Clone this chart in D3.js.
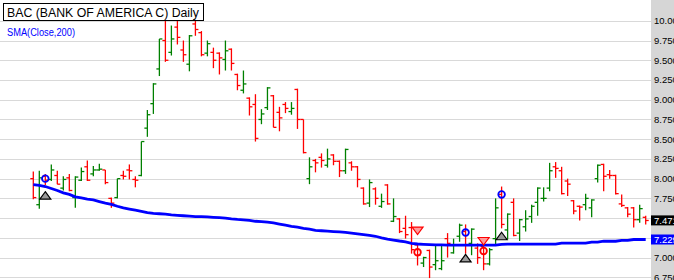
<!DOCTYPE html>
<html>
<head>
<meta charset="utf-8">
<script src="https://cdn.jsdelivr.net/npm/d3@7"></script>
<style>
  body { margin: 0; background: #fff; }
  svg { display: block; font-family: "Liberation Sans", Arial, sans-serif; }
</style>
</head>
<body>
<div id="chart"></div>
<script>
// daily OHLC, oldest first
const opens  = [8.00,7.67,8.03,7.99,8.04,7.88,8.01,7.76,7.98,8.15,8.06,8.11,8.11,7.75,7.76,8.04,8.11,7.99,8.04,8.64,
                8.95,9.39,9.75,9.60,9.92,9.63,9.45,9.96,9.85,9.59,9.60,9.59,9.51,9.64,9.32,9.12,9.02,8.94,8.75,8.90,
                9.05,8.84,8.94,8.85,9.13,8.75,8.00,8.23,8.27,8.17,8.30,8.22,8.10,8.20,8.15,7.88,7.69,7.87,7.65,7.92,
                7.46,7.49,7.37,7.38,7.16,6.93,7.09,6.91,6.86,7.24,7.06,7.27,7.33,7.18,7.12,7.14,6.92,7.24,7.80,7.35,
                7.70,7.31,7.39,7.52,7.70,7.75,7.88,8.15,8.10,7.97,7.72,7.65,7.67,7.63,8.00,8.18,8.05,8.04,7.68,7.63,
                7.63,7.48,7.51];
const highs  = [8.09,8.10,8.06,8.18,8.10,8.03,8.06,8.03,8.14,8.23,8.16,8.19,8.11,7.76,8.00,8.10,8.18,8.03,8.47,8.87,
                9.21,9.77,10.04,9.94,10.05,9.75,9.82,10.03,9.87,9.75,9.66,9.60,9.75,9.65,9.33,9.37,9.03,9.07,8.88,9.16,
                9.06,8.91,8.97,8.97,9.14,8.75,8.27,8.25,8.32,8.38,8.31,8.23,8.38,8.22,8.16,7.89,7.99,7.89,7.81,7.93,
                7.75,7.50,7.53,7.45,7.18,7.01,7.10,7.15,7.15,7.31,7.24,7.43,7.42,7.37,7.18,7.15,7.12,7.75,7.90,7.56,
                7.75,7.49,7.60,7.67,7.89,7.89,8.20,8.21,8.15,8.00,7.73,7.66,7.81,7.74,8.18,8.19,8.11,8.05,7.80,7.64,
                7.64,7.67,7.53];
const lows   = [7.74,7.62,7.92,7.97,7.93,7.85,7.84,7.63,7.97,7.97,8.03,8.10,7.93,7.63,7.75,7.99,7.99,7.89,8.03,8.53,
                8.82,9.30,9.48,9.56,9.70,9.48,9.36,9.81,9.55,9.55,9.40,9.32,9.37,9.37,9.12,9.08,8.80,8.47,8.69,8.87,
                8.65,8.60,8.83,8.81,8.63,8.32,7.93,8.08,8.14,8.14,8.17,8.02,8.06,8.10,7.89,7.67,7.64,7.67,7.63,7.67,
                7.45,7.31,7.24,7.05,6.90,6.88,6.74,6.84,6.84,7.00,7.05,7.20,7.05,7.03,6.92,6.84,6.90,7.16,7.37,7.23,
                7.27,7.21,7.33,7.44,7.53,7.71,7.84,8.01,7.80,7.78,7.55,7.47,7.60,7.51,7.95,7.84,8.00,7.80,7.64,7.51,
                7.38,7.44,7.42];
const closes = [7.76,8.01,7.98,8.11,7.93,7.99,7.85,8.02,8.09,7.98,8.11,8.12,7.95,7.69,8.00,8.03,8.10,7.98,8.47,8.81,
                9.20,9.77,9.50,9.77,9.79,9.57,9.81,9.89,9.57,9.71,9.50,9.53,9.62,9.46,9.18,9.20,8.91,8.51,8.82,9.15,
                8.65,8.77,8.89,8.89,8.75,8.33,8.15,8.20,8.23,8.25,8.22,8.10,8.37,8.15,7.99,7.68,7.95,7.75,7.71,7.68,
                7.52,7.33,7.29,7.10,7.03,7.00,6.88,6.96,6.96,7.18,7.16,7.41,7.16,7.36,7.00,6.92,7.10,7.63,7.42,7.55,
                7.28,7.48,7.49,7.65,7.88,7.75,8.10,8.13,7.81,7.93,7.59,7.64,7.75,7.73,8.17,8.03,8.04,7.81,7.66,7.55,
                7.48,7.62,7.47];
// SMA(Close,200) as drawn
const sma200 = [7.925,7.915,7.900,7.875,7.850,7.820,7.800,7.770,7.755,7.740,7.730,7.710,7.690,7.675,7.650,7.630,7.615,7.600,7.585,7.570,
                7.560,7.555,7.550,7.540,7.535,7.530,7.525,7.520,7.520,7.515,7.510,7.505,7.500,7.490,7.483,7.478,7.470,7.460,7.455,7.448,
                7.440,7.425,7.410,7.396,7.385,7.370,7.360,7.345,7.340,7.335,7.330,7.325,7.320,7.310,7.300,7.290,7.280,7.270,7.250,7.235,
                7.222,7.210,7.200,7.180,7.172,7.168,7.165,7.162,7.160,7.158,7.158,7.158,7.158,7.158,7.158,7.158,7.158,7.158,7.168,7.170,
                7.171,7.171,7.171,7.171,7.171,7.171,7.171,7.171,7.183,7.183,7.183,7.183,7.183,7.195,7.195,7.207,7.207,7.207,7.218,7.218,
                7.229,7.229,7.229];

// signal markers: bar index (0-based) and price
const buyIdx    = [2, 72, 78];
const buyPrice  = [7.784, 6.99, 7.27];
const sellIdx   = [64, 75];
const sellPrice = [7.342, 7.21];
const blueRingIdx   = [2, 72, 78];
const blueRingPrice = [8.00, 7.317, 7.80];
const redRingIdx    = [64, 75];
const redRingPrice  = [7.067, 7.083];

const yTicks = [6.75,7.00,7.25,7.50,7.75,8.00,8.25,8.50,8.75,9.00,9.25,9.50,9.75,10.00];
const lastClose = 7.471;
const lastSma = 7.229;

const width = 674, height = 280, plotRight = 651;

const svg = d3.select("#chart").append("svg")
    .attr("width", width)
    .attr("height", height)

const x = d3.scaleLinear().domain([0, closes.length - 1]).range([33.3, 645.7]);
const y = d3.scaleLinear().domain([6.75, 10]).range([277.3, 20.8]);

svg.append("defs").append("clipPath").attr("id", "plot")
  .append("rect").attr("x", 0).attr("y", 0).attr("width", plotRight).attr("height", height);

// grid
svg.append("g").selectAll("line")
  .data(yTicks).enter().append("line")
    .attr("x1", 0).attr("x2", plotRight)
    .attr("y1", d => Math.round(y(d)) + 0.5).attr("y2", d => Math.round(y(d)) + 0.5)
    .attr("stroke", "#d9d9d9").attr("stroke-width", 1)

const g = svg.append("g").attr("clip-path", "url(#plot)");

// OHLC bars
const bars = g.selectAll(".bar").data(closes.map((c, i) => i)).enter().append("g")
    .attr("stroke", i => closes[i] >= opens[i] ? "#008000" : "#ff0000")
    .attr("stroke-width", 1.3)
bars.append("line")
    .attr("x1", i => x(i)).attr("x2", i => x(i))
    .attr("y1", i => y(highs[i])).attr("y2", i => y(lows[i]))
bars.append("line")
    .attr("x1", i => x(i) - 3).attr("x2", i => x(i))
    .attr("y1", i => y(opens[i])).attr("y2", i => y(opens[i]))
bars.append("line")
    .attr("x1", i => x(i)).attr("x2", i => x(i) + 3)
    .attr("y1", i => y(closes[i])).attr("y2", i => y(closes[i]))

// moving average
g.append("path")
    .datum(sma200)
    .attr("fill", "none")
    .attr("stroke", "#0000ff")
    .attr("stroke-width", 2.8)
    .attr("d", d3.line().x((d, i) => x(i)).y(d => y(d)))

// markers
g.selectAll(".buy").data(buyIdx).enter().append("path")
    .attr("d", (d, k) => { const cx = x(d), cy = y(buyPrice[k]);
      return `M${cx},${cy - 4}L${cx + 5.5},${cy + 3.5}L${cx - 5.5},${cy + 3.5}Z`; })
    .attr("fill", "#9a9a9a").attr("stroke", "#000").attr("stroke-width", 1.2)

g.selectAll(".sell").data(sellIdx).enter().append("path")
    .attr("d", (d, k) => { const cx = x(d), cy = y(sellPrice[k]);
      return `M${cx - 5.5},${cy - 3.5}L${cx + 5.5},${cy - 3.5}L${cx},${cy + 4}Z`; })
    .attr("fill", "#ff9a9a").attr("stroke", "#ff0000").attr("stroke-width", 1.2)

g.selectAll(".bring").data(blueRingIdx).enter().append("circle")
    .attr("cx", d => x(d)).attr("cy", (d, k) => y(blueRingPrice[k])).attr("r", 3.3)
    .attr("fill", "none").attr("stroke", "#0000ff").attr("stroke-width", 1.8)

g.selectAll(".rring").data(redRingIdx).enter().append("circle")
    .attr("cx", d => x(d)).attr("cy", (d, k) => y(redRingPrice[k])).attr("r", 3.3)
    .attr("fill", "none").attr("stroke", "#ff0000").attr("stroke-width", 1.8)

// right price axis
svg.append("rect")
    .attr("x", plotRight).attr("y", 0).attr("width", width - plotRight).attr("height", height)
    .attr("fill", "#d6d6d6")

// labels hidden behind the last-value tags are left out
const tagVals = [lastClose, lastSma];
svg.append("g").selectAll("text")
  .data(yTicks.filter(t => tagVals.every(v => Math.abs(y(t) - y(v)) > 8))).enter().append("text")
    .attr("x", 654).attr("y", d => y(d)).attr("dy", "0.36em")
    .style("font-size", "9.5px").attr("fill", "#000")
    .text(d => d3.format(".3f")(d))

const tags = [[lastClose, "#000000", "#ffffff"], [lastSma, "#0000ff", "#ffffff"]];
const tag = svg.selectAll(".tag").data(tags).enter().append("g");
tag.append("rect")
    .attr("x", plotRight).attr("y", d => y(d[0]) - 5).attr("width", width - plotRight).attr("height", 10)
    .attr("fill", d => d[1])
tag.append("text")
    .attr("x", 654).attr("y", d => y(d[0])).attr("dy", "0.36em")
    .style("font-size", "9.5px").attr("fill", d => d[2])
    .text(d => d3.format(".3f")(d[0]))

// titles
svg.append("rect")
    .attr("x", 3.5).attr("y", 3.5).attr("width", 200).attr("height", 17)
    .attr("fill", "#fff").attr("stroke", "#000").attr("stroke-width", 1)
svg.append("text")
    .attr("x", 7).attr("y", 17)
    .attr("textLength", 192).attr("lengthAdjust", "spacingAndGlyphs")
    .style("font-size", "12.5px").attr("fill", "#000")
    .text("BAC (BANK OF AMERICA C) Daily")
svg.append("text")
    .attr("x", 7).attr("y", 35.5)
    .attr("textLength", 68).attr("lengthAdjust", "spacingAndGlyphs")
    .style("font-size", "10px").attr("fill", "#0000ff")
    .text("SMA(Close,200)")
</script>
</body>
</html>
